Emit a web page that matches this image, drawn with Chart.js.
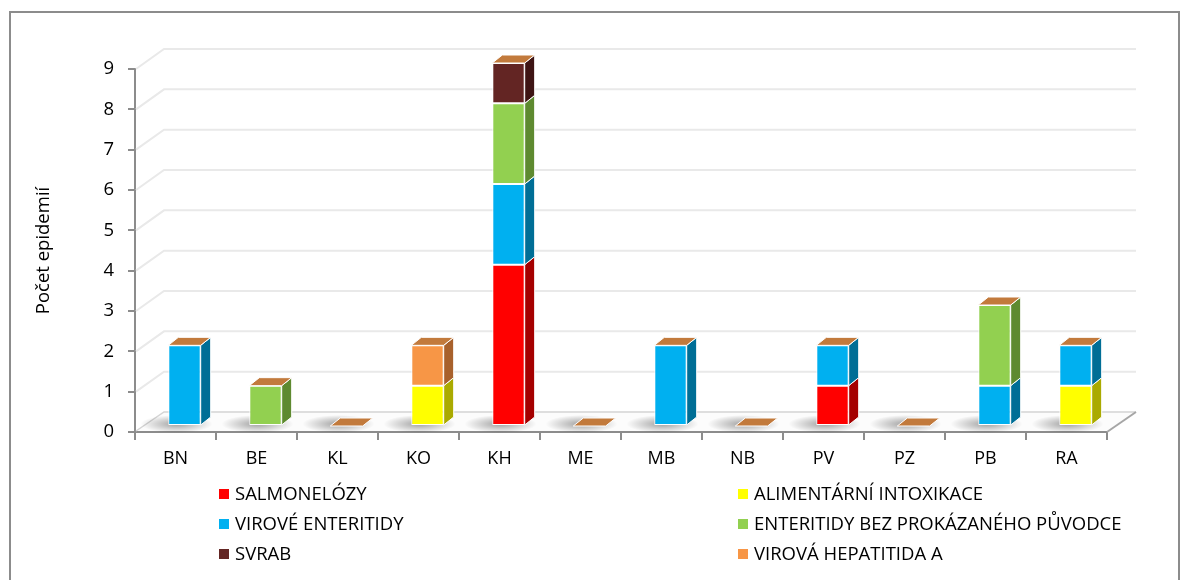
<!DOCTYPE html>
<html>
<head>
<meta charset="utf-8">
<script src="https://cdn.jsdelivr.net/npm/chart.js@4/dist/chart.umd.min.js"></script>
<style>
	body { margin: 0; background: #fff; font-family: 'Open Sans', sans-serif; }
	#wrap { position: relative; width: 1191px; height: 580px; overflow: hidden; }
	#frame { position: absolute; left: 9px; top: 11px; width: 1171px; height: 620px; border: 2px solid #8c8c8c; box-sizing: border-box; }
	#chart { position: absolute; left: 0; top: 0; }
	#legend { position: absolute; left: 0; top: 478px; width: 1191px; font-size: 18.5px; color: #000; }
	.item { position: absolute; height: 30px; line-height: 30px; white-space: nowrap; }
	.item span.box { display: inline-block; width: 10px; height: 10px; margin-right: 6px; vertical-align: 1px; }
</style>
</head>
<body>
<div id="wrap">
	<div id="frame"></div>
	<canvas id="chart" width="1191" height="580"></canvas>
	<div id="legend"></div>
</div>
<script>
const categories = ['BN', 'BE', 'KL', 'KO', 'KH', 'ME', 'MB', 'NB', 'PV', 'PZ', 'PB', 'RA'];
const salmonelozy = [0, 0, 0, 0, 4, 0, 0, 0, 1, 0, 0, 0];
const alimentarniIntoxikace = [0, 0, 0, 1, 0, 0, 0, 0, 0, 0, 0, 1];
const viroveEnteritidy = [2, 0, 0, 0, 2, 0, 2, 0, 1, 0, 1, 1];
const enteritidyBezPuvodce = [0, 1, 0, 0, 2, 0, 0, 0, 0, 0, 2, 0];
const svrab = [0, 0, 0, 0, 1, 0, 0, 0, 0, 0, 0, 0];
const virovaHepatitidaA = [0, 0, 0, 1, 0, 0, 0, 0, 0, 0, 0, 0];
const yTicks = [0, 1, 2, 3, 4, 5, 6, 7, 8, 9];

const series = [
	{ label: 'SALMONELÓZY', data: salmonelozy, color: '#FF0000', side: '#A50000' },
	{ label: 'ALIMENTÁRNÍ INTOXIKACE', data: alimentarniIntoxikace, color: '#FFFF00', side: '#AAAA00' },
	{ label: 'VIROVÉ ENTERITIDY', data: viroveEnteritidy, color: '#00B0F0', side: '#006E96' },
	{ label: 'ENTERITIDY BEZ PROKÁZANÉHO PŮVODCE', data: enteritidyBezPuvodce, color: '#92D050', side: '#5E8A30' },
	{ label: 'SVRAB', data: svrab, color: '#632523', side: '#3E1414' },
	{ label: 'VIROVÁ HEPATITIDA A', data: virovaHepatitidaA, color: '#F79646', side: '#A8612C' },
];
const topCap = '#C27A3C';
const fontFamily = 'Open Sans';

// fake 3d: bars sit mid-depth, back wall sits further back
const d3 = { bx: 9, by: -6, sx: 10, sy: 8, wx: 29, wy: 20 };

const pseudo3d = {
	id: 'pseudo3d',
	beforeDatasetsDraw(chart) {
		const ctx = chart.ctx;
		const area = chart.chartArea;
		const y = chart.scales.y;
		const x = chart.scales.x;
		ctx.save();
		// back wall gridlines
		ctx.strokeStyle = '#e9e9e9';
		ctx.lineWidth = 2;
		yTicks.forEach(v => {
			if (v === 0) return;
			const py = y.getPixelForValue(v);
			ctx.beginPath();
			ctx.moveTo(area.left + 1, py);
			ctx.lineTo(area.left + d3.wx, py - d3.wy);
			ctx.lineTo(area.right + d3.wx, py - d3.wy);
			ctx.stroke();
		});
		// floor
		const b = y.getPixelForValue(0);
		ctx.fillStyle = '#fcfcfc';
		ctx.beginPath();
		ctx.moveTo(area.left + 1, b - 1);
		ctx.lineTo(area.right, b - 1);
		ctx.lineTo(area.right + d3.wx, b - d3.wy);
		ctx.lineTo(area.left + d3.wx, b - d3.wy);
		ctx.closePath();
		ctx.fill();
		ctx.strokeStyle = '#d4d4d4';
		ctx.lineWidth = 1.5;
		ctx.beginPath();
		ctx.moveTo(area.left + 1, b - 1);
		ctx.lineTo(area.left + d3.wx, b - d3.wy);
		ctx.lineTo(area.right + d3.wx, b - d3.wy);
		ctx.stroke();
		ctx.strokeStyle = '#a6a6a6';
		ctx.lineWidth = 2;
		ctx.beginPath();
		ctx.moveTo(area.right + d3.wx, b - d3.wy);
		ctx.lineTo(area.right, b);
		ctx.stroke();
		// soft shadows on the floor
		categories.forEach((c, i) => {
			const cx = x.getPixelForValue(i) + d3.bx - 8;
			const cy = b + d3.by - 2;
			ctx.save();
			ctx.translate(cx, cy);
			ctx.scale(4, 1);
			const g = ctx.createRadialGradient(0, 0, 0, 0, 0, 9);
			g.addColorStop(0, 'rgba(0,0,0,0.36)');
			g.addColorStop(1, 'rgba(0,0,0,0)');
			ctx.fillStyle = g;
			ctx.beginPath();
			ctx.arc(0, 0, 9, 0, Math.PI * 2);
			ctx.fill();
			ctx.restore();
		});
		ctx.restore();
		ctx.save();
		ctx.translate(d3.bx, d3.by);
	},
	afterDatasetsDraw(chart) {
		const ctx = chart.ctx;
		ctx.strokeStyle = '#ffffff';
		ctx.lineWidth = 1;
		ctx.lineJoin = 'round';
		chart.data.datasets.forEach((ds, di) => {
			const meta = chart.getDatasetMeta(di);
			meta.data.forEach(bar => {
				const p = bar.getProps(['x', 'y', 'base', 'width'], true);
				const l = p.x - p.width / 2;
				const r = p.x + p.width / 2;
				const top = Math.min(p.y, p.base);
				const bot = Math.max(p.y, p.base);
				if (bot - top > 0.5) {
					ctx.fillStyle = series[di].side;
					ctx.beginPath();
					ctx.moveTo(r, top);
					ctx.lineTo(r + d3.sx, top - d3.sy);
					ctx.lineTo(r + d3.sx, bot - d3.sy);
					ctx.lineTo(r, bot);
					ctx.closePath();
					ctx.fill();
					ctx.stroke();
				}
				if (di === chart.data.datasets.length - 1) {
					ctx.fillStyle = topCap;
					ctx.beginPath();
					ctx.moveTo(l, top);
					ctx.lineTo(l + d3.sx, top - d3.sy);
					ctx.lineTo(r + d3.sx, top - d3.sy);
					ctx.lineTo(r, top);
					ctx.closePath();
					ctx.fill();
					ctx.stroke();
				}
			});
		});
		ctx.restore();
	},
};

const ctx = document.getElementById('chart').getContext('2d');
new Chart(ctx, {
	type: 'bar',
	data: {
		labels: categories,
		datasets: series.map(s => ({
			label: s.label,
			data: s.data,
			backgroundColor: s.color,
			borderColor: '#ffffff',
			borderWidth: 1,
			borderSkipped: false,
			categoryPercentage: 1,
			barPercentage: 0.4,
			clip: false,
		})),
	},
	options: {
		responsive: false,
		animation: false,
		layout: { padding: { left: 29, top: 69, right: 84, bottom: 0 } },
		plugins: {
			legend: { display: false },
			tooltip: { enabled: false },
		},
		scales: {
			x: {
				stacked: true,
				grid: { drawOnChartArea: false, tickLength: 8, color: '#8c8c8c', lineWidth: 2 },
				border: { display: true, color: '#8c8c8c', width: 2 },
				ticks: { color: '#000', padding: 8, font: { family: fontFamily, size: 18 } },
				afterFit: scale => { scale.height = 148; },
			},
			y: {
				stacked: true,
				min: 0,
				max: 9,
				grid: { drawOnChartArea: false, tickLength: 7, color: '#8c8c8c', lineWidth: 2 },
				border: { display: true, color: '#8c8c8c', width: 2 },
				ticks: { stepSize: 1, color: '#000', padding: 14, font: { family: fontFamily, size: 18.5 } },
				title: { display: true, text: 'Počet epidemií', color: '#000', padding: { top: 4, bottom: 4 }, font: { family: fontFamily, size: 18.5 } },
				afterFit: scale => { scale.width = 106; },
			},
		},
	},
	plugins: [pseudo3d],
});

// two column legend like the original
const legend = document.getElementById('legend');
const colX = [219, 738];
series.forEach((s, i) => {
	const item = document.createElement('div');
	item.className = 'item';
	item.style.left = colX[i % 2] + 'px';
	item.style.top = (Math.floor(i / 2) * 30) + 'px';
	item.innerHTML = '<span class="box" style="background:' + s.color + '"></span>' + s.label;
	legend.appendChild(item);
});
</script>
</body>
</html>
